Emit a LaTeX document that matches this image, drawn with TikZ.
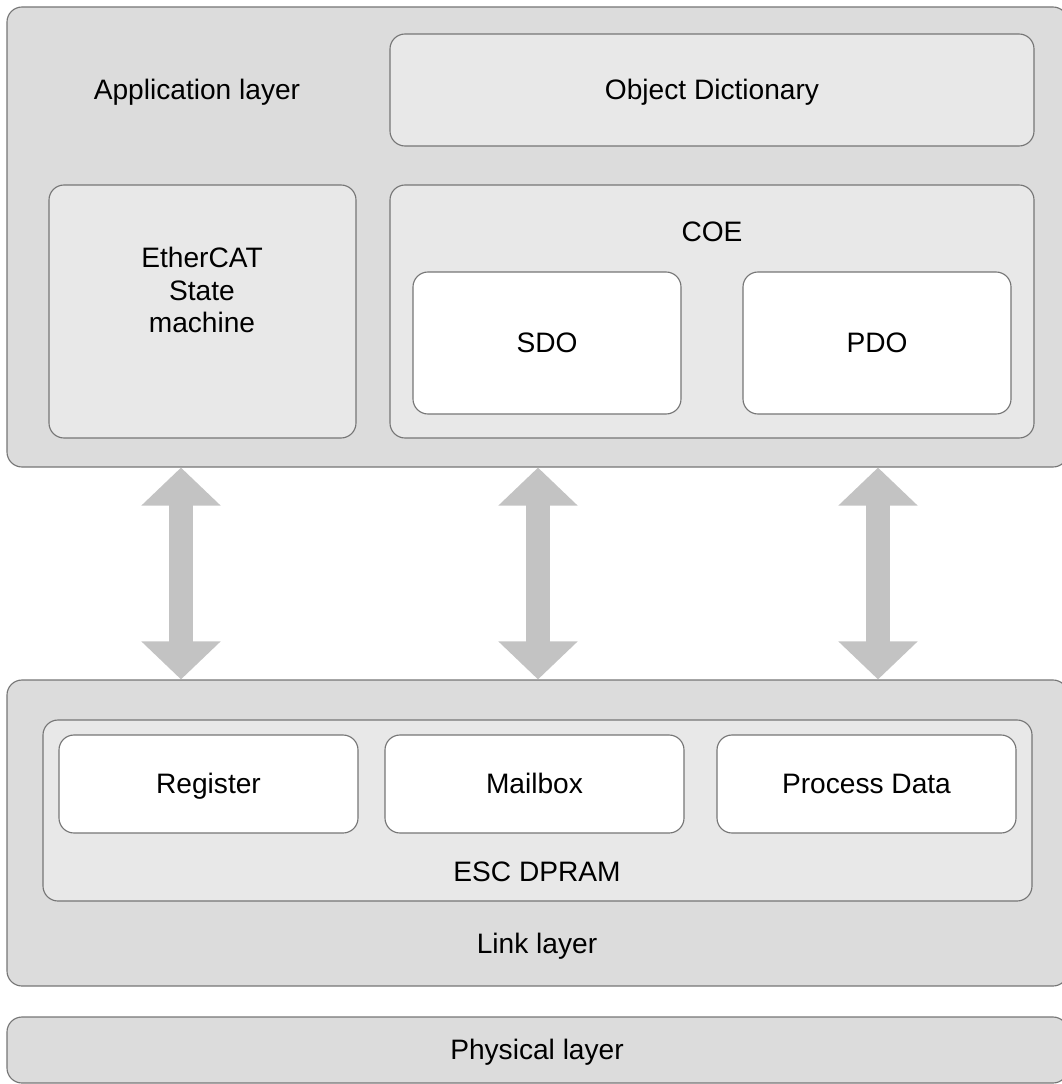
\documentclass[tikz,border=0pt]{standalone}
\usepackage{fontspec}
\setmainfont{Liberation Sans}
\usetikzlibrary{fit,arrows.meta}
\definecolor{layergray}{HTML}{DCDCDC}
\definecolor{innergray}{HTML}{E8E8E8}
\definecolor{edgegray}{HTML}{767676}
\definecolor{arrowgray}{HTML}{C3C3C3}

\tikzset{
  box/.style={draw=edgegray, line width=0.8pt, rounded corners=0.375cm, inner sep=0pt},
  layerbox/.style={box, fill=layergray},
  subbox/.style={box, fill=innergray},
  itembox/.style={box, fill=white},
  txt/.style={font=\fontsize{20}{23}\selectfont, align=center, inner sep=0pt},
  linetxt/.style={txt, anchor=mid, yshift=-0.15cm},
  bigarrow/.style={arrowgray, line width=0.6cm,
    {Triangle[length=0.95cm, width=1.925cm]}-{Triangle[length=0.95cm, width=1.925cm]}}
}

\begin{document}
\begin{tikzpicture}[x=0.025cm, y=-0.025cm]
        \useasboundingbox (0,0) rectangle (1062,1084);
        \clip (0,0) rectangle (1062,1084);

        % Application layer
        \node[layerbox, fit={(7,7) (1068,467)}] (app) {};
        \node[linetxt] (applabel) at (197,90) {Application layer};
        \node[subbox, fit={(390,34) (1034,146)}] (od) {};
        \node[linetxt] (odlabel) at (od.center) {Object Dictionary};
        \node[subbox, fit={(49,185) (356,438)}] (esm) {};
        \node[txt] (esmlabel) at (202,290) {EtherCAT\\State\\machine};
        \node[subbox, fit={(390,185) (1034,438)}] (coe) {};
        \node[linetxt] (coelabel) at (712,232) {COE};
        \node[itembox, fit={(413,272) (681,414)}] (sdo) {};
        \node[linetxt] (sdolabel) at (sdo.center) {SDO};
        \node[itembox, fit={(743,272) (1011,414)}] (pdo) {};
        \node[linetxt] (pdolabel) at (pdo.center) {PDO};

        % Link layer
        \node[layerbox, fit={(7,680) (1068,986)}] (link) {};
        \node[linetxt] (linklabel) at (537,944) {Link layer};
        \node[subbox, fit={(43,720) (1032,901)}] (dpram) {};
        \node[linetxt] (dpramlabel) at (537,872) {ESC DPRAM};
        \node[itembox, fit={(59,735) (358,833)}] (reg) {};
        \node[linetxt] (reglabel) at (reg.center) {Register};
        \node[itembox, fit={(385,735) (684,833)}] (mbx) {};
        \node[linetxt] (mbxlabel) at (mbx.center) {Mailbox};
        \node[itembox, fit={(717,735) (1016,833)}] (pd) {};
        \node[linetxt] (pdlabel) at (pd.center) {Process Data};

        % Physical layer
        \node[layerbox, fit={(7,1017) (1068,1083)}] (phy) {};
        \node[linetxt] (phylabel) at (537,1050) {Physical layer};

        % Arrows between the layers
        \draw[bigarrow] (181,0 |- app.south) -- (181,0 |- link.north);
        \draw[bigarrow] (538,0 |- app.south) -- (538,0 |- link.north);
        \draw[bigarrow] (878,0 |- app.south) -- (878,0 |- link.north);
      \end{tikzpicture}
\end{document}
